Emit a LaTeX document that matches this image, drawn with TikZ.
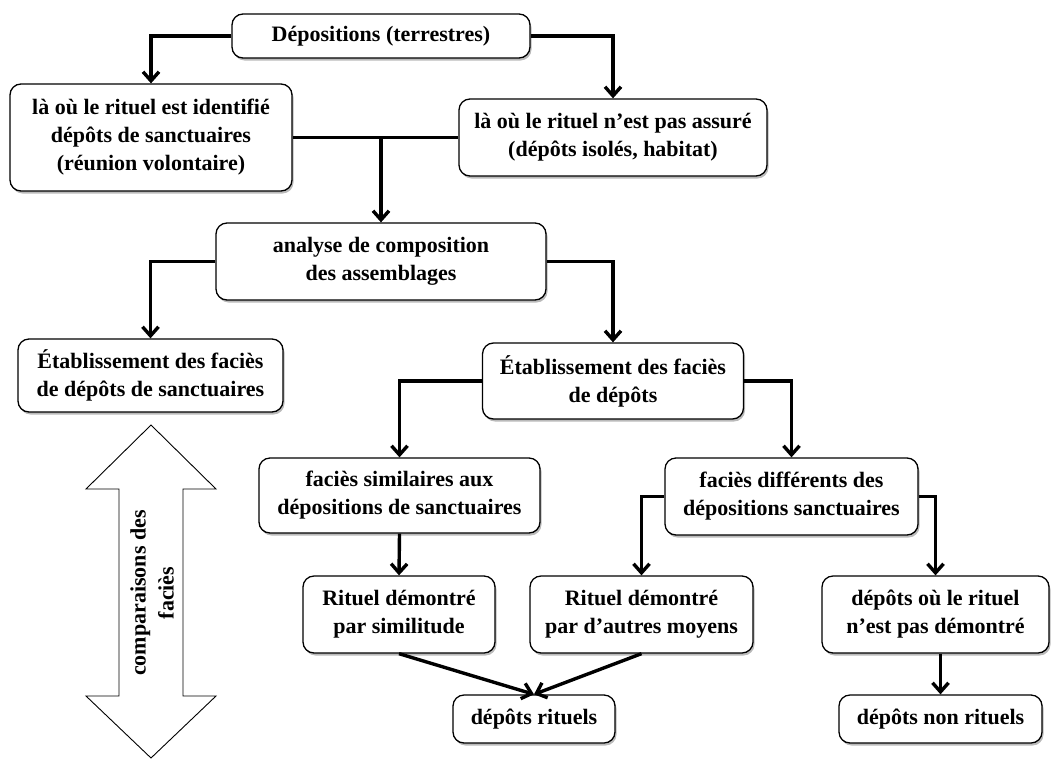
\documentclass[tikz,border=0pt]{standalone}
\usepackage{fontspec}
\setmainfont{Liberation Serif}
\usetikzlibrary{arrows.meta,shadows}

\tikzset{
  boite/.style={draw, line width=1.3pt, rounded corners=11pt, fill=white, align=center,
    inner sep=0pt, font=\bfseries\fontsize{22}{28}\selectfont,
    drop shadow={shadow xshift=1.5pt, shadow yshift=-2.5pt, fill=black!60, opacity=.45}},
  fleche/.style={line width=3.4pt, ->}
}

\begin{document}
\begin{tikzpicture}[x=1pt,y=-1pt,>={Straight Barb[length=9pt,width=16pt]}]
\useasboundingbox (0,0) rectangle (1051,758);

% The boxes
\node[boite, minimum width=298, minimum height=44] (dep) at (381,36) {Dépositions (terrestres)};
\node[boite, minimum width=282, minimum height=107] (ident) at (151,137.5)
  {là où le rituel est identifié\\dépôts de sanctuaires\\(réunion volontaire)};
\node[boite, minimum width=308, minimum height=77] (assure) at (613,137.5)
  {là où le rituel n’est pas assuré\\(dépôts isolés, habitat)};
\node[boite, minimum width=330, minimum height=77] (ana) at (381,261.5)
  {analyse de composition\\des assemblages};
\node[boite, minimum width=265, minimum height=73] (etabS) at (150.5,375.5)
  {Établissement des faciès\\de dépôts de sanctuaires};
\node[boite, minimum width=261, minimum height=76] (etabD) at (613,381)
  {Établissement des faciès\\de dépôts};
\node[boite, minimum width=281, minimum height=75] (simi) at (399.5,495.5)
  {faciès similaires aux\\dépositions de sanctuaires};
\node[boite, minimum width=253, minimum height=77] (diff) at (791.5,496.5)
  {faciès différents des\\dépositions sanctuaires};
\node[boite, minimum width=192, minimum height=77] (ritsim) at (399,614.5)
  {Rituel démontré\\par similitude};
\node[boite, minimum width=223, minimum height=77] (ritaut) at (641.5,614.5)
  {Rituel démontré\\par d’autres moyens};
\node[boite, minimum width=227, minimum height=77] (nondem) at (935.5,614.5)
  {dépôts où le rituel\\n’est pas démontré};
\node[boite, minimum width=162, minimum height=48] (rit) at (534,719) {dépôts rituels};
\node[boite, minimum width=203, minimum height=48] (nonrit) at (940.5,719) {dépôts non rituels};

% The connectors
\draw[fleche] (dep.west) -| (ident.north);
\draw[fleche] (dep.east) -| (assure.north);
\draw[line width=3.4pt] (ident.east) -- (assure.west);
\coordinate (jonction) at (ana.north |- ident.east);
\draw[fleche] (jonction) -- (ana.north);
\draw[fleche] (ana.west) -| (etabS.north);
\draw[fleche] (ana.east) -| (etabD.north);
\draw[fleche] (etabD.west) -| (simi.north);
\draw[fleche] (etabD.east) -| (diff.north);
\draw[fleche] (simi.south) -- (ritsim.north);
\draw[fleche] (diff.west) -| (ritaut.north);
\draw[fleche] (diff.east) -| (nondem.north);
\draw[fleche] (ritsim.south) -- (rit.north);
\draw[fleche] (ritaut.south) -- (rit.north);
\draw[fleche] (nonrit.north |- nondem.south) -- (nonrit.north);

% The double arrow
\draw[line width=0.9pt, fill=white] (151,425) -- (216,489) -- (183,489) -- (183,696) -- (216,696)
  -- (151,758) -- (86,696) -- (119,696) -- (119,489) -- (86,489) -- cycle;
\node[rotate=90, align=center, font=\bfseries\fontsize{22}{28}\selectfont] (comp) at (152,593)
  {comparaisons des\\faciès};

\end{tikzpicture}
\end{document}
